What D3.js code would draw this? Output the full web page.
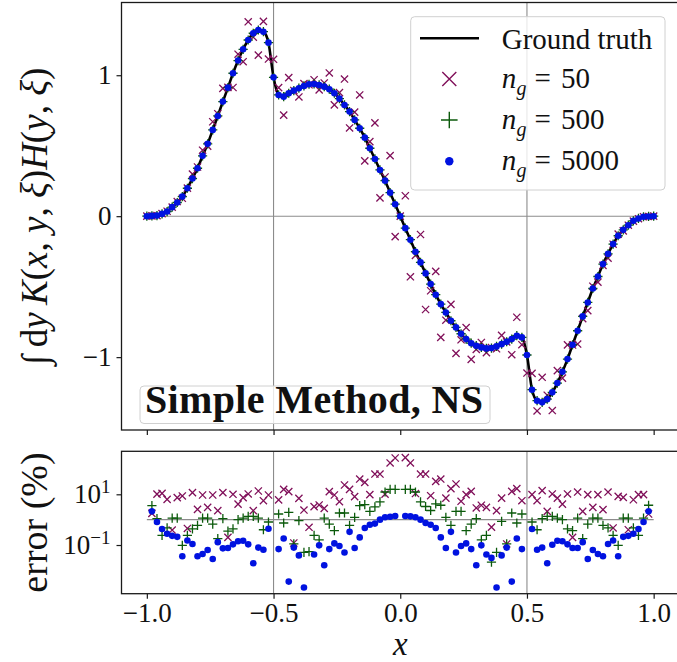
<!DOCTYPE html>
<html>
<head>
<meta charset="utf-8">
<script src="https://cdn.jsdelivr.net/npm/d3@7"></script>
<style>
body { margin: 0; background: #fff; }
svg { display: block; font-family: "Liberation Serif", "DejaVu Serif", serif; }
</style>
</head>
<body>
<svg id="chart" width="677" height="662"></svg>
<script>
// sample points (x), ground truth and the three quadrature results
var xGrid = [-1.00,-0.98,-0.96,-0.94,-0.92,-0.90,-0.88,-0.86,-0.84,-0.82,-0.80,-0.78,-0.76,-0.74,-0.72,-0.70,-0.68,-0.66,-0.64,-0.62,-0.60,-0.58,-0.56,-0.54,-0.52,-0.50,-0.48,-0.46,-0.44,-0.42,-0.40,-0.38,-0.36,-0.34,-0.32,-0.30,-0.28,-0.26,-0.24,-0.22,-0.20,-0.18,-0.16,-0.14,-0.12,-0.10,-0.08,-0.06,-0.04,-0.02,0.00,0.02,0.04,0.06,0.08,0.10,0.12,0.14,0.16,0.18,0.20,0.22,0.24,0.26,0.28,0.30,0.32,0.34,0.36,0.38,0.40,0.42,0.44,0.46,0.48,0.50,0.52,0.54,0.56,0.58,0.60,0.62,0.64,0.66,0.68,0.70,0.72,0.74,0.76,0.78,0.80,0.82,0.84,0.86,0.88,0.90,0.92,0.94,0.96,0.98,1.00];

var truth = [0.000,0.002,0.004,0.016,0.033,0.064,0.097,0.139,0.198,0.267,0.340,0.428,0.513,0.612,0.711,0.813,0.912,1.014,1.104,1.184,1.250,1.298,1.321,1.309,1.231,0.985,0.860,0.848,0.872,0.891,0.908,0.924,0.936,0.938,0.931,0.919,0.901,0.872,0.834,0.789,0.742,0.683,0.624,0.557,0.482,0.406,0.328,0.252,0.167,0.085,0.000,
  -0.085,-0.167,-0.252,-0.328,-0.406,-0.482,-0.557,-0.624,-0.683,-0.742,-0.789,-0.834,-0.872,-0.901,-0.919,-0.931,-0.938,-0.936,-0.924,-0.908,-0.891,-0.872,-0.848,-0.860,-0.985,-1.231,-1.309,-1.321,-1.298,-1.250,-1.184,-1.104,-1.014,-0.912,-0.813,-0.711,-0.612,-0.513,-0.428,-0.340,-0.267,-0.198,-0.139,-0.097,-0.064,-0.033,-0.016,-0.004,-0.002,0.000];

var ng50 = [0.000,0.002,0.004,0.018,0.035,0.064,0.104,0.127,0.199,0.298,0.349,0.468,0.497,0.670,0.727,0.907,0.914,0.913,1.149,1.096,1.379,1.270,1.143,1.382,1.115,1.113,0.912,0.717,0.983,0.892,0.846,0.941,0.932,0.968,0.896,0.945,1.016,0.790,0.877,0.973,0.626,0.738,0.860,0.392,0.529,0.662,0.130,0.278,0.430,-0.145,0.000,
  0.145,-0.430,-0.278,-0.130,-0.662,-0.529,-0.392,-0.860,-0.738,-0.626,-0.973,-0.877,-0.790,-1.016,-0.945,-0.896,-0.968,-0.932,-0.941,-0.846,-0.892,-0.983,-0.717,-0.912,-1.113,-1.115,-1.382,-1.143,-1.270,-1.379,-1.096,-1.149,-0.913,-0.914,-0.907,-0.727,-0.670,-0.497,-0.468,-0.349,-0.298,-0.199,-0.127,-0.104,-0.064,-0.035,-0.018,-0.004,-0.002,0.000];

var ng500 = [0.000,0.002,0.004,0.016,0.033,0.064,0.097,0.139,0.198,0.267,0.340,0.428,0.513,0.612,0.711,0.813,0.912,1.014,1.104,1.184,1.250,1.298,1.321,1.309,1.231,0.985,0.860,0.848,0.872,0.891,0.908,0.924,0.936,0.938,0.931,0.919,0.901,0.872,0.834,0.789,0.742,0.683,0.624,0.557,0.482,0.406,0.328,0.252,0.167,0.085,0.000,
  -0.085,-0.167,-0.252,-0.328,-0.406,-0.482,-0.557,-0.624,-0.683,-0.742,-0.789,-0.834,-0.872,-0.901,-0.919,-0.931,-0.938,-0.936,-0.924,-0.908,-0.891,-0.872,-0.848,-0.860,-0.985,-1.231,-1.309,-1.321,-1.298,-1.250,-1.184,-1.104,-1.014,-0.912,-0.813,-0.711,-0.612,-0.513,-0.428,-0.340,-0.267,-0.198,-0.139,-0.097,-0.064,-0.033,-0.016,-0.004,-0.002,0.000];

var ng5000 = [0.000,0.002,0.004,0.016,0.033,0.064,0.097,0.139,0.198,0.267,0.340,0.428,0.513,0.612,0.711,0.813,0.912,1.014,1.104,1.184,1.250,1.298,1.321,1.309,1.231,0.985,0.860,0.848,0.872,0.891,0.908,0.924,0.936,0.938,0.931,0.919,0.901,0.872,0.834,0.789,0.742,0.683,0.624,0.557,0.482,0.406,0.328,0.252,0.167,0.085,0.000,
  -0.085,-0.167,-0.252,-0.328,-0.406,-0.482,-0.557,-0.624,-0.683,-0.742,-0.789,-0.834,-0.872,-0.901,-0.919,-0.931,-0.938,-0.936,-0.924,-0.908,-0.891,-0.872,-0.848,-0.860,-0.985,-1.231,-1.309,-1.321,-1.298,-1.250,-1.184,-1.104,-1.014,-0.912,-0.813,-0.711,-0.612,-0.513,-0.428,-0.340,-0.267,-0.198,-0.139,-0.097,-0.064,-0.033,-0.016,-0.004,-0.002,0.000];

// relative error in percent (null = not defined)
var err50 = [null,1.77,10.2,10.9,6.3,0.39,7.4,8.6,0.45,11.6,2.55,9.4,3.06,9.4,2.26,11.6,0.20,10.0,4.1,7.4,10.3,2.26,13.5,5.6,9.4,null,6.0,15.7,12.7,0.12,6.9,2.4,0.5,3.25,3.8,2.8,12.7,9.4,5.1,23.3,15.7,8.1,40,29.6,9.7,63,63,10.2,172,270,null,
  280,172,10.7,63,63,8.8,32.5,40,7.1,16.7,25.5,5.3,9.7,13.1,2.9,3.7,3.06,0.51,2.26,7.1,0.11,13.1,16.7,5.6,null,9.7,5.6,13.9,2.13,10.3,7.1,4.1,10.3,0.20,12.3,2.13,9.7,3.06,9.7,2.48,12.3,0.47,8.3,7.6,0.40,6.1,9.7,9.7,1.67,null];

var err500 = [null,3.6,1.09,0.24,0.47,1.16,1.16,0.097,0.24,0.43,0.60,1.16,1.16,0.67,0.18,1.09,0.35,0.43,1.0,1.16,1.35,1.35,1.16,0.40,0.81,null,1.67,0.74,1.95,0.11,0.91,0.051,0.055,0.24,0.16,1.16,0.67,0.37,1.83,1.83,0.60,1.24,3.6,3.9,2.13,3.2,5.0,12.3,15.7,15.7,null,
  15.7,15.7,12.3,5.0,3.3,2.3,4.2,3.7,1.24,0.60,2.13,2.13,0.37,0.67,1.09,0.16,0.24,0.021,0.051,0.86,0.11,1.83,0.74,1.67,null,0.81,0.40,1.09,1.35,1.35,1.16,1.0,0.43,0.37,1.16,0.18,0.67,1.16,1.16,0.60,0.47,0.24,0.097,1.16,1.16,0.47,0.24,1.16,3.7,null];

var err5000 = [null,2.13,0.81,0.43,0.28,0.23,0.21,0.036,0.15,0.11,0.036,0.044,0.064,0.028,0.13,0.074,0.076,0.106,0.14,0.148,0.106,0.019,0.079,0.065,0.44,null,0.069,0.18,0.0036,0.079,0.039,0.0021,0,0.042,0.097,0.016,0.069,0.116,0.091,0.051,0.33,0.076,0.20,0.47,0.63,0.70,1.0,1.24,1.31,1.39,null,
  1.39,1.35,1.24,1.0,0.74,0.63,0.47,0.20,0.076,0.33,0.051,0.091,0.116,0.069,0.016,0.097,0.042,0.031,0.0021,0.039,0.079,0.0036,0.18,0.069,null,0.43,0.065,0.079,0.019,0.103,0.148,0.14,0.106,0.076,0.076,0.13,0.028,0.064,0.044,0.036,0.11,0.15,0.036,0.21,0.23,0.28,0.43,0.81,2.13,null];

var xTicks = [-1.0, -0.5, 0.0, 0.5, 1.0];
var yTicksTop = [-1, 0, 1];
var yTicksErr = [0.1, 10];
var refX = [-0.5, 0.5];
var legendNames = ["Ground truth", "50", "500", "5000"];

var svg = d3.select("#chart");

var x = d3.scaleLinear().domain([-1.1, 1.1]).range([121.5, 679]);
var yTop = d3.scaleLinear().domain([-1.517, 1.516]).range([430, 2.5]);
var yErr = d3.scaleLog().domain([Math.pow(10, -2.92), Math.pow(10, 2.696)]).range([593.7, 451.3]);

var col50 = "#80105a", col500 = "#0b5a0b", col5000 = "#0012e0";
var gray = "#8c8c8c";

var defs = svg.append("defs");
defs.append("clipPath").attr("id", "clipTop").append("rect")
  .attr("x", x.range()[0]).attr("y", yTop.range()[1])
  .attr("width", x.range()[1] - x.range()[0]).attr("height", yTop.range()[0] - yTop.range()[1]);
defs.append("clipPath").attr("id", "clipErr").append("rect")
  .attr("x", x.range()[0]).attr("y", yErr.range()[1])
  .attr("width", x.range()[1] - x.range()[0]).attr("height", yErr.range()[0] - yErr.range()[1]);

function crossPath(s) { return "M" + (-s) + "," + (-s) + "L" + s + "," + s + "M" + (-s) + "," + s + "L" + s + "," + (-s); }
function plusPath(s) { return "M" + (-s) + ",0H" + s + "M0," + (-s) + "V" + s; }

function drawSeries(g, pts, ys, kind, color) {
  if (kind == "dot") {
    g.selectAll(null).data(pts).enter().append("circle")
      .attr("cx", function(d) { return x(d.x); })
      .attr("cy", function(d) { return ys(d.y); })
      .attr("r", 3.3)
      .attr("fill", color);
  } else {
    g.selectAll(null).data(pts).enter().append("path")
      .attr("transform", function(d) { return "translate(" + x(d.x) + "," + ys(d.y) + ")"; })
      .attr("d", kind == "x" ? crossPath(3.6) : plusPath(4.6))
      .attr("fill", "none")
      .attr("stroke", color)
      .attr("stroke-width", 1.3);
  }
}

function pairs(vals) {
  var out = [];
  xGrid.forEach(function(xv, i) {
    if (vals[i] != null) out.push({x: xv, y: vals[i]});
  });
  return out;
}

/* ---------- top panel ---------- */
var topG = svg.append("g");
var topPlot = topG.append("g").attr("clip-path", "url(#clipTop)");

refX.forEach(function(v) {
  topPlot.append("line").attr("x1", x(v)).attr("x2", x(v))
    .attr("y1", yTop.range()[1]).attr("y2", yTop.range()[0])
    .attr("stroke", gray).attr("stroke-width", 1.1);
});
topPlot.append("line").attr("x1", x(-1)).attr("x2", x(1))
  .attr("y1", yTop(0)).attr("y2", yTop(0))
  .attr("stroke", gray).attr("stroke-width", 1.1);

topPlot.append("path")
  .datum(pairs(truth))
  .attr("fill", "none")
  .attr("stroke", "#000")
  .attr("stroke-width", 2.6)
  .attr("d", d3.line().x(function(d) { return x(d.x); }).y(function(d) { return yTop(d.y); }).curve(d3.curveMonotoneX));

drawSeries(topPlot.append("g"), pairs(ng50), yTop, "x", col50);
drawSeries(topPlot.append("g"), pairs(ng500), yTop, "+", col500);
drawSeries(topPlot.append("g"), pairs(ng5000), yTop, "dot", col5000);

topG.append("rect")
  .attr("x", x.range()[0]).attr("y", yTop.range()[1])
  .attr("width", x.range()[1] - x.range()[0]).attr("height", yTop.range()[0] - yTop.range()[1])
  .attr("fill", "none").attr("stroke", "#1a1a1a").attr("stroke-width", 1.3);

var topXAxis = topG.append("g").attr("transform", "translate(0," + yTop.range()[0] + ")")
  .call(d3.axisBottom(x).tickValues(xTicks).tickSize(5).tickFormat(""));
var topYAxis = topG.append("g").attr("transform", "translate(" + x.range()[0] + ",0)")
  .call(d3.axisLeft(yTop).tickValues(yTicksTop).tickSize(5).tickPadding(5)
    .tickFormat(function(d) { return d < 0 ? "\u2212" + Math.abs(d) : d; }));

/* ---------- error panel ---------- */
var botG = svg.append("g");
var botPlot = botG.append("g").attr("clip-path", "url(#clipErr)");

refX.forEach(function(v) {
  botPlot.append("line").attr("x1", x(v)).attr("x2", x(v))
    .attr("y1", yErr.range()[1]).attr("y2", yErr.range()[0])
    .attr("stroke", gray).attr("stroke-width", 1.1);
});
botPlot.append("line").attr("x1", x(-1)).attr("x2", x(1))
  .attr("y1", yErr(1)).attr("y2", yErr(1))
  .attr("stroke", gray).attr("stroke-width", 1.1);

function positive(vals) {
  return pairs(vals).filter(function(d) { return d.y > 0; });
}
drawSeries(botPlot.append("g"), positive(err50), yErr, "x", col50);
drawSeries(botPlot.append("g"), positive(err500), yErr, "+", col500);
drawSeries(botPlot.append("g"), positive(err5000), yErr, "dot", col5000);

botG.append("rect")
  .attr("x", x.range()[0]).attr("y", yErr.range()[1])
  .attr("width", x.range()[1] - x.range()[0]).attr("height", yErr.range()[0] - yErr.range()[1])
  .attr("fill", "none").attr("stroke", "#1a1a1a").attr("stroke-width", 1.3);

var botXAxis = botG.append("g").attr("transform", "translate(0," + yErr.range()[0] + ")")
  .call(d3.axisBottom(x).tickValues(xTicks).tickSize(5).tickPadding(4).tickFormat(d3.format(".1f")));
var botYAxis = botG.append("g").attr("transform", "translate(" + x.range()[0] + ",0)")
  .call(d3.axisLeft(yErr).tickValues(yTicksErr).tickSize(5).tickPadding(6).tickFormat(""));

botYAxis.selectAll(".tick text").each(function(d) {
  var t = d3.select(this);
  var p = Math.round(Math.log10(d));
  t.append("tspan").text("10");
  t.append("tspan").attr("font-size", "19px").attr("dy", "-10")
    .text(p < 0 ? "\u2212" + Math.abs(p) : String(p));
});

[topXAxis, topYAxis, botXAxis, botYAxis].forEach(function(a) {
  a.select(".domain").remove();
  a.selectAll(".tick line").attr("stroke", "#1a1a1a").attr("stroke-width", 1.2);
  a.selectAll(".tick text").attr("font-family", "Liberation Serif, serif")
    .attr("font-size", "27px").attr("fill", "#111");
});

/* ---------- axis labels ---------- */
var ylab = svg.append("text")
  .attr("transform", "translate(47," + ((yTop.range()[0] + yTop.range()[1]) / 2) + ") rotate(-90)")
  .attr("text-anchor", "middle")
  .attr("font-size", "37px")
  .attr("fill", "#111");
[["\u222B", "n"], ["\u2009d", "n"], ["y", "i"], ["\u2009K", "i"], ["(", "n"], ["x", "i"], [", ", "n"], ["y", "i"], [", ", "n"], ["\u03BE", "i"], [")", "n"],
 ["H", "i"], ["(", "n"], ["y", "i"], [", ", "n"], ["\u03BE", "i"], [")", "n"]].forEach(function(p) {
  ylab.append("tspan").attr("font-style", p[1] == "i" ? "italic" : "normal").text(p[0]);
});

svg.append("text")
  .attr("transform", "translate(47," + ((yErr.range()[0] + yErr.range()[1]) / 2) + ") rotate(-90)")
  .attr("text-anchor", "middle")
  .attr("font-size", "38px")
  .attr("fill", "#111")
  .text("error (%)");

svg.append("text")
  .attr("x", x(0)).attr("y", 654.5)
  .attr("text-anchor", "middle")
  .attr("font-size", "33px")
  .attr("font-style", "italic")
  .attr("fill", "#111")
  .text("x");

/* ---------- legend ---------- */
var leg = svg.append("g");
leg.append("rect").attr("x", 410.7).attr("y", 16.7).attr("width", 254.3).attr("height", 173.3)
  .attr("rx", 4).attr("fill", "#fff").attr("fill-opacity", 0.8)
  .attr("stroke", "#d0d0d0").attr("stroke-width", 1);

var rowY = [38.3, 79, 120, 161.3];
leg.append("line").attr("x1", 420).attr("x2", 479).attr("y1", rowY[0]).attr("y2", rowY[0])
  .attr("stroke", "#000").attr("stroke-width", 2.6);
leg.append("text").attr("x", 501.7).attr("y", rowY[0] + 10.3)
  .attr("font-size", "29px").attr("fill", "#111").text(legendNames[0]);

leg.append("path").attr("transform", "translate(449.3," + rowY[1] + ")").attr("d", crossPath(7))
  .attr("stroke", col50).attr("stroke-width", 1.4).attr("fill", "none");
leg.append("path").attr("transform", "translate(449.3," + rowY[2] + ")").attr("d", plusPath(8.3))
  .attr("stroke", col500).attr("stroke-width", 1.4).attr("fill", "none");
leg.append("circle").attr("cx", 449.3).attr("cy", rowY[3]).attr("r", 4.2).attr("fill", col5000);

[1, 2, 3].forEach(function(k) {
  var t = leg.append("text").attr("y", rowY[k] + 9).attr("font-size", "29px").attr("fill", "#111");
  t.append("tspan").attr("x", 501.7).attr("font-style", "italic").text("n");
  t.append("tspan").attr("x", 516.5).attr("dy", 7).attr("font-size", "20px").attr("font-style", "italic").text("g");
  t.append("tspan").attr("x", 534.5).attr("dy", -7).text("=");
  t.append("tspan").attr("x", 561).text(legendNames[k]);
});

/* ---------- method label ---------- */
svg.append("rect").attr("x", 140).attr("y", 386).attr("width", 350).attr("height", 37.5)
  .attr("rx", 4).attr("fill", "#fff").attr("fill-opacity", 0.8)
  .attr("stroke", "#d0d0d0").attr("stroke-width", 1);
svg.append("text").attr("x", 145).attr("y", 413)
  .attr("font-size", "40px").attr("font-weight", "bold").attr("fill", "#111")
  .attr("textLength", 338).attr("lengthAdjust", "spacing")
  .text("Simple Method, NS");
</script>
</body>
</html>
